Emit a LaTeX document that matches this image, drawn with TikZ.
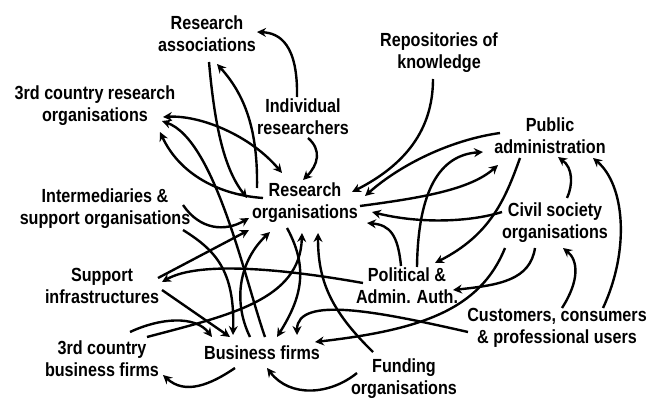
\documentclass[tikz,border=0pt]{standalone}
\usepackage{fontspec}
\setmainfont{Liberation Sans}[FakeStretch=0.85]
\usetikzlibrary{arrows.meta}
\usetikzlibrary{calc}

\tikzset{
  actor/.style={font=\fontsize{19}{22}\selectfont\bfseries, align=center, inner sep=0pt},
  link/.style={line width=2.4pt, ->},
}

\begin{document}
\begin{tikzpicture}[x=1pt, y=-1pt, >={Stealth[length=9pt,width=9pt,inset=3pt]}]
  \useasboundingbox (0,0) rectangle (647,398);

  % actors
  \node[actor] (RA)  at (207,34)  {Research\\associations};
  \node[actor] (TRO) at (95,106)  {3rd country research\\organisations};
  \node[actor] (IR)  at (303,117) {Individual\\researchers};
  \node[actor] (RK)  at (439,53)  {Repositories of\\knowledge};
  \node[actor] (PA)  at (550,136) {Public\\administration};
  \node[actor] (RO)  at (305,203) {Research\\organisations};
  \node[actor] (ISO) at (105,209) {Intermediaries \&\\support organisations};
  \node[actor] (CSO) at (555,223) {Civil society\\organisations};
  \node[actor] (SI)  at (102,286) {Support\\infrastructures};
  \node[actor] (PAA) at (407,286) {Political \&\\Admin. Auth.};
  \node[actor] (CU)  at (557,328) {Customers, consumers\\\& professional users};
  \node[actor] (TBF) at (102,359) {3rd country\\business firms};
  \node[actor] (BF)  at (262,353) {Business firms};
  \node[actor] (FO)  at (404,379) {Funding\\organisations};

  % upper part
  \draw[link] ($(IR)+(-6,-20)$) .. controls (298,45) and (280,33) .. ($(RA)+(50,-2)$);
  \draw[link] ($(IR)+(5,21)$) .. controls (322,150) and (318,165) .. ($(RO)+(-2,-23)$);
  \draw[link] ($(RK)+(-6,26)$) .. controls (433,130) and (405,165) .. ($(RO)+(47,-11)$);
  \draw[link] ($(RA)+(2,28)$) .. controls (215,130) and (225,170) .. ($(RO)+(-58,-5)$);
  \draw[link] ($(RO)+(-48,-15)$) .. controls (258,130) and (245,95) .. ($(RA)+(10,30)$);
  \draw[link, <->] ($(TRO)+(68,11)$) .. controls (200,115) and (250,135) .. ($(RO)+(-23,-30)$);
  \draw[link] ($(RO)+(-42,-5)$) .. controls (220,195) and (180,175) .. ($(TRO)+(65,26)$);

  % right side
  \draw[link] ($(PA)+(-50,-3)$) .. controls (450,140) and (400,165) .. ($(RO)+(60,-7)$);
  \draw[link] ($(RO)+(55,3)$) .. controls (420,198) and (470,190) .. ($(PA)+(-52,29)$);
  \draw[link] ($(PAA)+(10,-19)$) .. controls (418,190) and (440,155) .. ($(PA)+(-67,16)$);
  \draw[link] ($(PAA)+(-6,-20)$) .. controls (398,235) and (390,225) .. ($(RO)+(62,20)$);
  \draw[link] ($(CSO)+(-53,-11)$) .. controls (470,222) and (420,224) .. ($(RO)+(67,9)$);
  \draw[link] ($(PA)+(-30,22)$) .. controls (505,200) and (490,235) .. ($(PAA)+(28,-23)$);
  \draw[link] ($(CSO)+(12,-25)$) .. controls (573,185) and (573,168) .. ($(PA)+(8,21)$);
  \draw[link] ($(CU)+(46,-20)$) .. controls (630,250) and (625,185) .. ($(PA)+(43,22)$);
  \draw[link] ($(CU)+(5,-20)$) .. controls (580,280) and (578,260) .. ($(CSO)+(8,25)$);
  \draw[link] ($(CSO)+(-20,25)$) .. controls (530,280) and (500,285) .. ($(PAA)+(46,4)$);

  % lower part
  \draw[link] ($(CSO)+(-50,25)$) .. controls (480,310) and (420,330) .. ($(BF)+(53,-11)$);
  \draw[link] ($(CU)+(-89,4)$) .. controls (380,312) and (297,295) .. ($(BF)+(35,-18)$);
  \draw[link] ($(PAA)+(-44,-3)$) .. controls (290,270) and (200,260) .. ($(SI)+(60,-4)$);
  \draw[link] ($(FO)+(-31,-27)$) .. controls (330,310) and (318,280) .. ($(RO)+(13,30)$);
  \draw[link] ($(FO)+(-47,-6)$) .. controls (330,395) and (290,398) .. ($(BF)+(5,15)$);
  \draw[link] ($(BF)+(-27,15)$) .. controls (210,385) and (185,395) .. ($(TBF)+(61,16)$);
  \draw[link] ($(RO)+(-18,25)$) .. controls (310,270) and (300,300) .. ($(BF)+(15,-16)$);

  % left side
  \draw[link] ($(SI)+(60,4)$) -- ($(BF)+(-32,-16)$);
  \draw[link] ($(SI)+(56,-8)$) -- ($(RO)+(-56,27)$);
  \draw[link] ($(TBF)+(28,-27)$) .. controls (160,318) and (195,315) .. ($(BF)+(-50,-16)$);
  \draw[link] ($(TBF)+(45,-22)$) .. controls (230,315) and (300,300) .. ($(RO)+(-3,30)$);
  \draw[link] ($(ISO)+(78,21)$) .. controls (215,250) and (235,270) .. ($(BF)+(-29,-18)$);
  \draw[link] ($(ISO)+(78,-4)$) .. controls (200,230) and (225,232) .. ($(RO)+(-56,15)$);
  \draw[link] ($(BF)+(-12,-16)$) .. controls (232,300) and (240,260) .. ($(RO)+(-35,29)$);
  \draw[link] ($(BF)+(3,-16)$) .. controls (245,280) and (215,140) .. ($(TRO)+(67,15)$);
\end{tikzpicture}
\end{document}
